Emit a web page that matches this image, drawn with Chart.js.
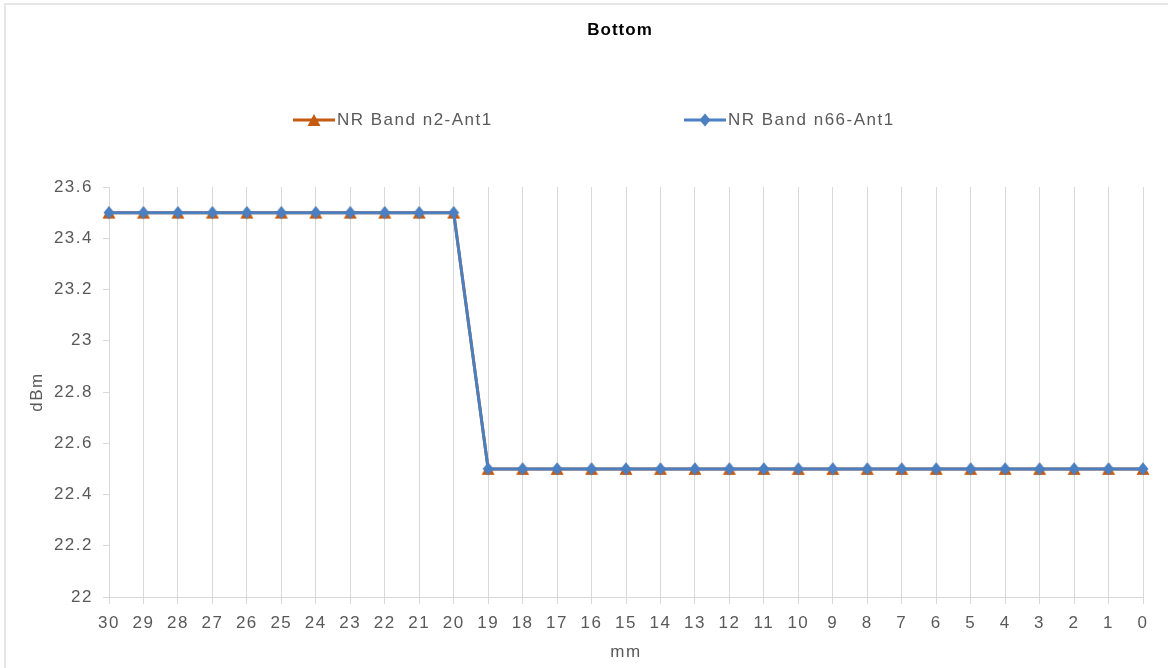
<!DOCTYPE html>
<html>
<head>
<meta charset="utf-8">
<script src="https://cdn.jsdelivr.net/npm/chart.js@4/dist/chart.umd.min.js"></script>
<style>
  html, body { margin: 0; padding: 0; background: #fff; }
  #wrap { position: relative; width: 1168px; height: 668px; overflow: hidden; }
  #frame { position: absolute; left: 4px; top: 3px; width: 1200px; height: 700px;
           border-top: 2px solid #e6e6e6; border-left: 2px solid #e6e6e6; box-sizing: border-box; pointer-events: none; }
  canvas { position: absolute; left: 0; top: 0; }
</style>
</head>
<body>
<div id="wrap">
  <canvas id="chart" width="1168" height="668"></canvas>
  <div id="frame"></div>
</div>
<script>
const distances = ['30','29','28','27','26','25','24','23','22','21','20','19','18','17','16','15','14','13','12','11','10','9','8','7','6','5','4','3','2','1','0'];
const n2Ant1 = [23.5,23.5,23.5,23.5,23.5,23.5,23.5,23.5,23.5,23.5,23.5,22.5,22.5,22.5,22.5,22.5,22.5,22.5,22.5,22.5,22.5,22.5,22.5,22.5,22.5,22.5,22.5,22.5,22.5,22.5,22.5];
const n66Ant1 = [23.5,23.5,23.5,23.5,23.5,23.5,23.5,23.5,23.5,23.5,23.5,22.5,22.5,22.5,22.5,22.5,22.5,22.5,22.5,22.5,22.5,22.5,22.5,22.5,22.5,22.5,22.5,22.5,22.5,22.5,22.5];
const seriesNames = ['NR Band n2-Ant1', 'NR Band n66-Ant1'];
const chartTitle = 'Bottom';

const ORANGE = '#c55a11';
const BLUE = '#4a7fc1';
const GRID = '#d9d9d9';
const TEXT = '#595959';
const FONT = "'Liberation Sans', Arial, sans-serif";
const SPACING = '1.5px';

// excel-like markers: the triangle base just peeks out under the diamond
function makeTriangle(color) {
  const c = document.createElement('canvas');
  c.width = 14; c.height = 14;
  const ctx = c.getContext('2d');
  ctx.fillStyle = color;
  ctx.beginPath();
  ctx.moveTo(7, 1);
  ctx.lineTo(13.5, 13);
  ctx.lineTo(0.5, 13);
  ctx.closePath();
  ctx.fill();
  return c;
}
function makeDiamond(color) {
  const c = document.createElement('canvas');
  c.width = 12; c.height = 14;
  const ctx = c.getContext('2d');
  ctx.fillStyle = color;
  ctx.beginPath();
  ctx.moveTo(6, 0.5);
  ctx.lineTo(11.5, 7);
  ctx.lineTo(6, 13.5);
  ctx.lineTo(0.5, 7);
  ctx.closePath();
  ctx.fill();
  return c;
}
const triangleMark = makeTriangle(ORANGE);
const diamondMark = makeDiamond(BLUE);

// wide letter spacing like the original excel export; canvas resets state so set it each pass
const spacingPlugin = {
  id: 'spacing',
  beforeUpdate(chart) { chart.ctx.letterSpacing = SPACING; },
  beforeDraw(chart) { chart.ctx.letterSpacing = SPACING; }
};

// title + legend drawn by hand so the two entries can sit far apart like the original
const headerPlugin = {
  id: 'header',
  afterDraw(chart) {
    const ctx = chart.ctx;
    ctx.save();
    ctx.letterSpacing = '1px';
    ctx.fillStyle = '#000';
    ctx.font = 'bold 17px ' + FONT;
    ctx.textAlign = 'center';
    ctx.textBaseline = 'middle';
    ctx.fillText(chartTitle, 620, 30);

    const y = 120;
    const items = [
      { x: 293, ds: chart.data.datasets[0] },
      { x: 684, ds: chart.data.datasets[1] }
    ];
    items.forEach(it => {
      ctx.strokeStyle = it.ds.borderColor;
      ctx.lineWidth = 3;
      ctx.beginPath();
      ctx.moveTo(it.x, y);
      ctx.lineTo(it.x + 42, y);
      ctx.stroke();
      const img = it.ds.pointStyle;
      ctx.drawImage(img, it.x + 21 - img.width / 2, y - img.height / 2);
      ctx.fillStyle = TEXT;
      ctx.font = '17px ' + FONT;
      ctx.letterSpacing = SPACING;
      ctx.textAlign = 'left';
      ctx.fillText(it.ds.label, it.x + 44, y);
    });
    ctx.restore();
  }
};

new Chart(document.getElementById('chart'), {
  type: 'line',
  data: {
    labels: distances,
    datasets: [
      {
        label: seriesNames[0], data: n2Ant1, order: 2,
        borderColor: ORANGE, borderWidth: 3,
        pointStyle: triangleMark, pointRadius: 7,
        tension: 0
      },
      {
        label: seriesNames[1], data: n66Ant1, order: 1,
        borderColor: BLUE, borderWidth: 3,
        pointStyle: diamondMark, pointRadius: 6,
        tension: 0
      }
    ]
  },
  options: {
    responsive: false,
    animation: false,
    layout: { padding: { left: 5, right: 25, top: 187, bottom: 0 } },
    plugins: {
      legend: { display: false },
      tooltip: { enabled: false },
      title: { display: false }
    },
    scales: {
      x: {
        offset: false,
        grid: { color: GRID, lineWidth: 1, tickLength: 7, drawOnChartArea: true },
        border: { color: GRID, width: 1 },
        ticks: { color: TEXT, font: { family: FONT, size: 17 }, padding: 9, maxRotation: 0, autoSkip: false },
        title: { display: true, text: 'mm', color: TEXT, font: { family: FONT, size: 17 }, padding: { top: 0, bottom: 5 } },
        afterFit(scale) { scale.height = 71; }
      },
      y: {
        min: 22, max: 23.6,
        grid: { color: GRID, drawOnChartArea: false, drawTicks: true, tickLength: 6 },
        border: { color: GRID, width: 1 },
        ticks: {
          stepSize: 0.2, color: TEXT, font: { family: FONT, size: 17 }, padding: 10,
          callback: v => String(parseFloat(v.toFixed(1)))
        },
        title: { display: true, text: 'dBm', color: TEXT, font: { family: FONT, size: 17 }, padding: { top: 22, bottom: 0 } },
        afterFit(scale) { scale.width = 104; }
      }
    }
  },
  plugins: [spacingPlugin, headerPlugin]
});
</script>
</body>
</html>
